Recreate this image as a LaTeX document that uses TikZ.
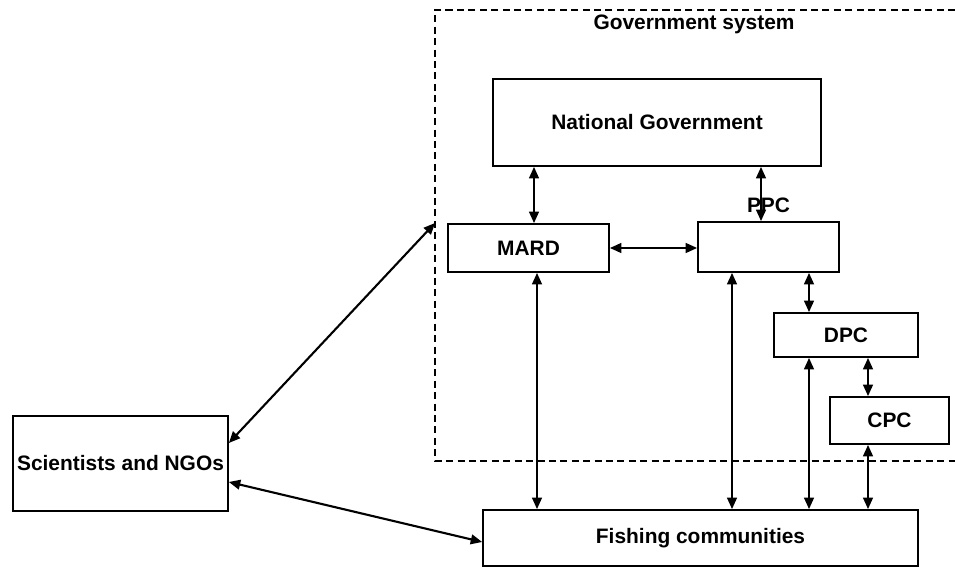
\documentclass[tikz,border=0pt]{standalone}
\usepackage{fontspec}
\setmainfont{Liberation Sans}
\usetikzlibrary{positioning,arrows.meta}

\begin{document}
\begin{tikzpicture}[x=0.02cm,y=-0.02cm,>={Triangle[length=6.5pt,width=5.5pt]},
        txt/.style={font=\fontsize{11.9}{14}\selectfont\bfseries},
        box/.style={txt,draw,line width=1pt,inner sep=0pt},
        link/.style={<->,line width=1.2pt}]
        \useasboundingbox (0,0) rectangle (955,570);
        % government system frame
        \coordinate (gtl) at (435,10);
        \coordinate (gbl) at (435,461);
        \coordinate (gleft) at (435,223);
        \draw[line width=0.9pt,dash pattern=on 4pt off 2.5pt] (955,10) -- (gtl) -- (gbl) -- (955,461);
        \node[txt] (gov) at (694,24) {Government system};
        \node[box,minimum width=6.56cm,minimum height=1.74cm] (ng) at (657,122.5) {National Government};
        \node[box,minimum width=3.22cm,minimum height=0.96cm] (mard) at (528.5,248) {MARD};
        \node[box,minimum width=2.82cm,minimum height=1cm,
            label={[txt,inner sep=0pt,label distance=4.5pt]above:PPC}] (ppc) at (768.5,247) {};
        \node[box,minimum width=2.88cm,minimum height=0.88cm] (dpc) at (846,335) {DPC};
        \node[box,minimum width=2.38cm,minimum height=0.94cm] (cpc) at (889.5,420.5) {CPC};
        \node[box,minimum width=8.7cm,minimum height=1.12cm] (fish) at (700.5,538) {Fishing communities};
        \node[box,minimum width=4.3cm,minimum height=1.9cm] (sci) at (120.5,463.5) {Scientists and NGOs};
        % links
        \draw[link] ([xshift=0.11cm]mard.north) -- ([xshift=0.11cm]mard.north |- ng.south);
        \draw[link] ([xshift=-0.15cm]ppc.north) -- ([xshift=-0.15cm]ppc.north |- ng.south);
        \draw[link] (mard.east) -- (mard.east -| ppc.west);
        \draw[link] ([xshift=-0.74cm]dpc.north) -- ([xshift=-0.74cm]dpc.north |- ppc.south);
        \draw[link] ([xshift=-0.43cm]cpc.north) -- ([xshift=-0.43cm]cpc.north |- dpc.south);
        \draw[link] ([xshift=-0.43cm]cpc.south) -- ([xshift=-0.43cm]cpc.south |- fish.north);
        \draw[link] ([xshift=-0.74cm]dpc.south) -- ([xshift=-0.74cm]dpc.south |- fish.north);
        \draw[link] ([xshift=-0.73cm]ppc.south) -- ([xshift=-0.73cm]ppc.south |- fish.north);
        \draw[link] ([xshift=0.17cm]mard.south) -- ([xshift=0.17cm]mard.south |- fish.north);
        \draw[link] ([yshift=0.41cm]sci.east) -- (gleft);
        \draw[link] ([yshift=-0.37cm]sci.east) -- ([yshift=-0.08cm]fish.west);
\end{tikzpicture}
\end{document}
